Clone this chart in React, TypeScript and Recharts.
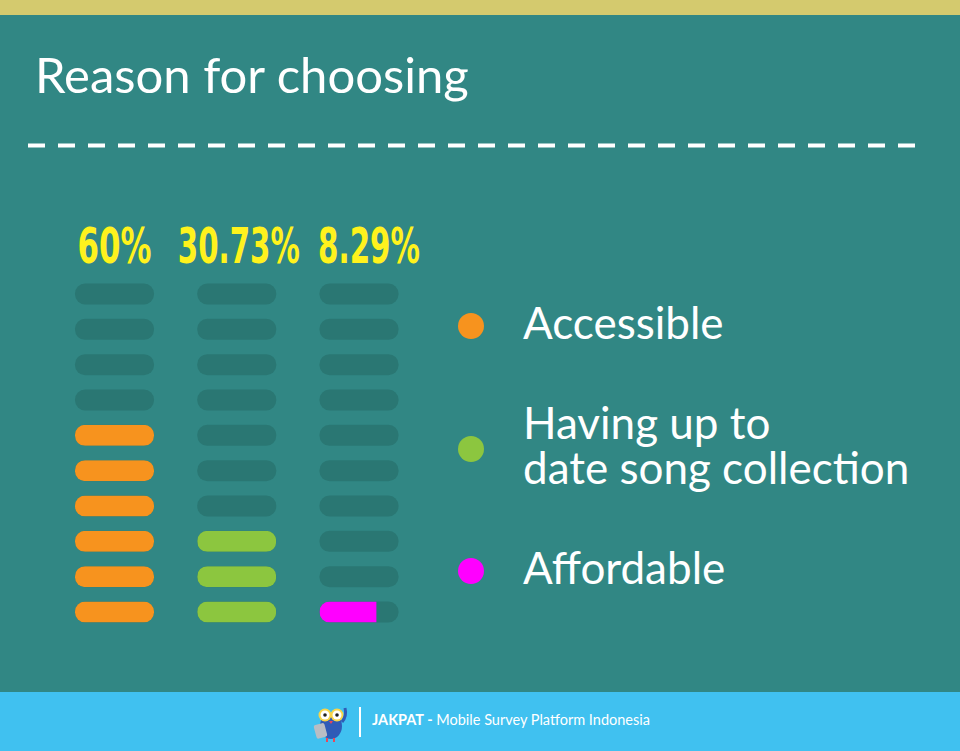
import React from 'react';
import { ScatterChart, Scatter, XAxis, YAxis, Legend } from 'recharts';

// values
const reasons = ['Accessible', 'Having up to\ndate song collection', 'Affordable'];
const percentLabels = ['60%', '30.73%', '8.29%'];
const filledUnits = [6, 3, 0.72]; // pills filled per column (out of 10)
const rowIndex = [0, 1, 2, 3, 4, 5, 6, 7, 8, 9];

const COLORS = ['#F7931E', '#8CC63F', '#FF00FF'];
const BG = '#318784';
const TRACK = '#2A7773';
const PILL_W = 79;
const PILL_H = 21;
const LABEL_DX = [0, 2, 10];

const seriesData = reasons.map((_, col) =>
  rowIndex.map((row) => ({
    col,
    row,
    fill: Math.max(0, Math.min(1, filledUnits[col] - row)),
  }))
);

const renderPill = (color: string) => (props: any) => {
  const { cx, cy, payload } = props;
  const x = cx - PILL_W / 2;
  const y = cy - PILL_H / 2;
  const id = `pill-${payload.col}-${payload.row}`;
  return (
    <g>
      <clipPath id={id}>
        <rect x={x} y={y} width={PILL_W} height={PILL_H} rx={10} />
      </clipPath>
      <rect x={x} y={y} width={PILL_W} height={PILL_H} rx={10} fill={TRACK} />
      {payload.fill > 0 && (
        <rect x={x} y={y} width={PILL_W * payload.fill} height={PILL_H} fill={color} clipPath={`url(#${id})`} />
      )}
    </g>
  );
};

// squeeze the label into a condensed look
const labelWidth = (s: string) =>
  s.split('').reduce((w, c) => w + (c === '%' ? 34 : c === '.' ? 8 : 20), 0);

const PercentTick = (props: any) => {
  const { x, y, payload } = props;
  const label = percentLabels[payload.value];
  return (
    <text
      x={x + LABEL_DX[payload.value]}
      y={y}
      dy={-31}
      textAnchor="middle"
      fill="#FFF21D"
      fontSize={49}
      fontWeight="bold"
      fontFamily="'DejaVu Sans', sans-serif"
      textLength={labelWidth(label)}
      lengthAdjust="spacingAndGlyphs"
    >
      {label}
    </text>
  );
};

const LegendContent = ({ payload }: any) => {
  const items = [...(payload || [])].sort(
    (a: any, b: any) => reasons.indexOf(a.value) - reasons.indexOf(b.value)
  );
  return (
    <div style={{ fontFamily: 'Lato, sans-serif', color: '#fff' }}>
      {items.map((entry: any) => (
        <div key={entry.value} style={{ height: 122.5, display: 'flex', alignItems: 'center' }}>
          <span
            style={{
              width: 26,
              height: 26,
              borderRadius: '50%',
              background: entry.color,
              marginLeft: 18,
              marginRight: 39,
              flexShrink: 0,
            }}
          />
          <span
            style={{
              fontSize: 44,
              lineHeight: '45px',
              whiteSpace: 'pre-line',
              position: 'relative',
              top: -4,
            }}
          >
            {entry.value}
          </span>
        </div>
      ))}
    </div>
  );
};

const Owl = () => (
  <svg width={40} height={42} style={{ position: 'absolute', left: 311, top: 700 }}>
    <ellipse cx={20} cy={26} rx={11} ry={13} fill="#2F5BB7" />
    <rect x={4} y={24} width={11} height={14} rx={2} fill="#B9BDC4" transform="rotate(-15 9 31)" />
    <circle cx={14} cy={15} r={6.5} fill="#F9D548" />
    <circle cx={26} cy={15} r={6.5} fill="#F9D548" />
    <circle cx={14} cy={15} r={4.5} fill="#fff" />
    <circle cx={26} cy={15} r={4.5} fill="#fff" />
    <circle cx={14} cy={15} r={1.8} fill="#222" />
    <circle cx={26} cy={15} r={1.8} fill="#222" />
    <path d="M18 21 L20 24 L22 21 Z" fill="#E8475A" />
    <path d="M31 22 Q36 16 34 8" stroke="#2F5BB7" strokeWidth={3} fill="none" />
    <rect x={15} y={38} width={2} height={4} fill="#E8475A" />
    <rect x={22} y={38} width={2} height={4} fill="#E8475A" />
  </svg>
);

export default function App() {
  return (
    <div
      style={{
        position: 'absolute',
        left: 0,
        top: 0,
        width: 960,
        height: 751,
        background: BG,
        overflow: 'hidden',
        fontFamily: 'Lato, sans-serif',
      }}
    >
      <div style={{ position: 'absolute', left: 0, top: 0, width: 960, height: 15, background: '#D4CA6E' }} />
      <div
        style={{
          position: 'absolute',
          left: 35,
          top: 45,
          fontSize: 49,
          color: '#fff',
          lineHeight: '58px',
        }}
      >
        Reason for choosing
      </div>
      <svg width={960} height={751} style={{ position: 'absolute', left: 0, top: 0 }}>
        <line x1={28} x2={915} y1={145.5} y2={145.5} stroke="#fff" strokeWidth={4} strokeDasharray="17 13" />
      </svg>

      <div style={{ position: 'absolute', left: 0, top: 0 }}>
        <ScatterChart width={960} height={751} margin={{ top: 254, right: 601, bottom: 139, left: 114.5 }}>
          <XAxis
            type="number"
            dataKey="col"
            orientation="top"
            domain={[0, 2]}
            ticks={[0, 1, 2]}
            height={40}
            axisLine={false}
            tickLine={false}
            tickSize={0}
            tickMargin={0}
            tick={<PercentTick />}
          />
          <YAxis type="number" dataKey="row" domain={[0, 9]} hide />
          <Legend
            layout="vertical"
            align="center"
            verticalAlign="middle"
            content={<LegendContent />}
            wrapperStyle={{ position: 'absolute', left: 440, top: 265, width: 500 }}
          />
          {reasons.map((name, i) => (
            <Scatter
              key={name}
              name={name}
              data={seriesData[i]}
              fill={COLORS[i]}
              shape={renderPill(COLORS[i])}
              isAnimationActive={false}
            />
          ))}
        </ScatterChart>
      </div>

      <div style={{ position: 'absolute', left: 0, top: 692, width: 960, height: 59, background: '#40C1F0' }} />
      <Owl />
      <div style={{ position: 'absolute', left: 359, top: 707, width: 2, height: 30, background: '#fff' }} />
      <div
        style={{
          position: 'absolute',
          left: 372,
          top: 711,
          fontSize: 14.5,
          color: '#fff',
          whiteSpace: 'nowrap',
        }}
      >
        <b>JAKPAT -</b> Mobile Survey Platform Indonesia
      </div>
    </div>
  );
}
